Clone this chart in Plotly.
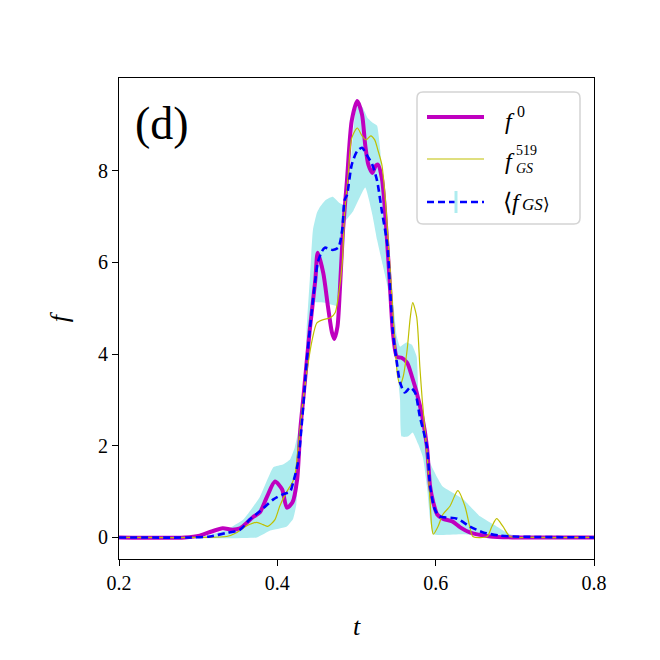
import plotly.graph_objects as go

# ---- data ----
t_f0 = [0.2, 0.283, 0.302, 0.317, 0.331, 0.343, 0.353, 0.369, 0.378, 0.387, 0.397, 0.406, 0.412,
        0.419, 0.425, 0.429, 0.433, 0.437, 0.441, 0.448, 0.451, 0.458, 0.464, 0.469, 0.472,
        0.476, 0.479, 0.483, 0.488, 0.494, 0.501, 0.507, 0.511, 0.515, 0.520, 0.524, 0.527,
        0.532, 0.536, 0.540, 0.542, 0.546, 0.551, 0.557, 0.564, 0.570, 0.576, 0.583, 0.589,
        0.593, 0.597, 0.602, 0.609, 0.621, 0.631, 0.643, 0.669, 0.7, 0.8]
f0 = [0, 0, 0.04, 0.13, 0.20, 0.17, 0.20, 0.44, 0.55, 0.89, 1.22, 1.05, 0.65,
      0.76, 1.26, 2.35, 3.07, 3.81, 4.53, 5.62, 6.21, 5.77, 5.03, 4.47, 4.33,
      4.60, 5.40, 6.71, 7.80, 9.09, 9.52, 9.22, 8.56, 8.13, 7.95, 8.10, 8.13,
      7.84, 7.12, 6.10, 5.56, 4.47, 3.94, 3.92, 3.81, 3.51, 3.16, 2.64, 1.98,
      1.11, 0.76, 0.50, 0.41, 0.35, 0.22, 0.11, 0.02, 0, 0]

t_gs = [0.2, 0.302, 0.336, 0.349, 0.362, 0.374, 0.382, 0.388, 0.397, 0.403, 0.410, 0.419,
        0.422, 0.433, 0.444, 0.450, 0.458, 0.467, 0.473, 0.477, 0.482, 0.485, 0.489, 0.494,
        0.501, 0.507, 0.512, 0.518, 0.523, 0.527, 0.532, 0.536, 0.539, 0.545, 0.549, 0.552,
        0.555, 0.559, 0.564, 0.568, 0.571, 0.576, 0.580, 0.583, 0.589, 0.593, 0.595, 0.597,
        0.603, 0.609, 0.618, 0.628, 0.637, 0.643, 0.647, 0.665, 0.671, 0.677, 0.685, 0.694,
        0.72, 0.8]
f_gs = [0, 0, 0.02, 0.11, 0.26, 0.33, 0.28, 0.24, 0.39, 0.68, 0.94, 1.20,
        1.33, 3.07, 4.31, 4.68, 4.75, 4.79, 4.90, 5.25, 5.99, 7.08, 7.80, 8.71,
        8.93, 8.76, 8.67, 8.76, 8.67, 8.45, 8.13, 7.47, 6.75, 5.19, 4.10, 3.51,
        3.33, 3.51, 4.10, 4.81, 5.12, 4.81, 3.73, 3.01, 1.85, 0.76, 0.24, 0.07,
        0.24, 0.50, 0.68, 1.02, 0.68, 0.24, 0.02, 0.02, 0.24, 0.41, 0.24, 0.02,
        0, 0]

t_mean = [0.2, 0.290, 0.315, 0.336, 0.353, 0.365, 0.378, 0.395, 0.407, 0.416, 0.420, 0.426,
          0.431, 0.437, 0.441, 0.448, 0.451, 0.456, 0.460, 0.470, 0.477, 0.482, 0.485, 0.488,
          0.494, 0.501, 0.507, 0.513, 0.520, 0.526, 0.532, 0.539, 0.542, 0.546, 0.551, 0.555,
          0.561, 0.568, 0.574, 0.580, 0.589, 0.593, 0.599, 0.605, 0.627, 0.643, 0.660, 0.681,
          0.698, 0.8]
f_mean = [0, 0, 0.02, 0.10, 0.17, 0.39, 0.57, 0.83, 0.94, 1.00, 1.20, 1.63,
          2.50, 3.81, 4.53, 5.62, 5.99, 6.23, 6.32, 6.27, 6.32, 6.71, 7.36, 7.47,
          8.13, 8.43, 8.50, 8.34, 8.13, 7.78, 7.12, 6.38, 5.56, 4.47, 3.81, 3.38,
          3.16, 3.27, 3.16, 2.64, 1.98, 1.11, 0.61, 0.46, 0.41, 0.24, 0.11, 0.04,
          0.02, 0]

t_band_up = [0.2, 0.277, 0.306, 0.336, 0.357, 0.378, 0.395, 0.407, 0.416, 0.422, 0.431, 0.435,
             0.437, 0.441, 0.445, 0.450, 0.454, 0.461, 0.470, 0.478, 0.485, 0.490, 0.494, 0.498,
             0.502, 0.508, 0.514, 0.521, 0.526, 0.530, 0.532, 0.536, 0.540, 0.546, 0.551, 0.555,
             0.563, 0.570, 0.576, 0.578, 0.580, 0.589, 0.593, 0.602, 0.609, 0.635, 0.656, 0.677,
             0.694, 0.732, 0.8]
f_band_up = [0, 0, 0.02, 0.17, 0.39, 0.89, 1.53, 1.59, 1.70, 1.96, 2.72, 3.44,
             4.53, 5.62, 6.71, 7.08, 7.21, 7.36, 7.43, 7.30, 7.25, 7.58, 8.45, 9.22,
             9.48, 9.37, 9.15, 9.04, 8.98, 8.45, 7.84, 6.99, 6.06, 5.19, 4.38, 4.16,
             4.25, 4.20, 3.94, 3.22, 2.85, 2.14, 1.63, 1.31, 1.11, 0.83, 0.46, 0.24,
             0.07, 0, 0]

t_band_lo = [0.2, 0.374, 0.391, 0.412, 0.420, 0.424, 0.426, 0.431, 0.437, 0.441, 0.445, 0.460,
             0.477, 0.480, 0.483, 0.496, 0.511, 0.520, 0.526, 0.533, 0.540, 0.546, 0.552, 0.555,
             0.557, 0.565, 0.571, 0.578, 0.584, 0.589, 0.593, 0.597, 0.635, 0.669, 0.694, 0.8]
f_band_lo = [0, 0, 0.15, 0.24, 0.41, 0.72, 1.26, 2.35, 3.44, 4.53, 5.12, 5.12,
             5.05, 5.62, 6.82, 7.12, 7.63, 7.04, 6.49, 5.95, 5.40, 4.31, 3.55, 3.01,
             2.20, 2.20, 2.29, 2.03, 1.74, 1.11, 0.39, 0.07, 0.07, 0.02, 0, 0]

x_ticks = [0.2, 0.4, 0.6, 0.8]
x_tick_labels = ["0.2", "0.4", "0.6", "0.8"]
y_ticks = [0, 2, 4, 6, 8]
y_tick_labels = ["0", "2", "4", "6", "8"]

FONT = "Liberation Serif"
C_F0 = "#BF00BF"
C_GS = "#BFBF00"
C_MEAN = "#0000FF"
C_BAND = "#AEECEF"
MEAN_DASH = "7px,4px"

fig = go.Figure()

# error band (drawn first, underneath)
fig.add_trace(go.Scatter(
    x=t_band_up + t_band_lo[::-1], y=f_band_up + f_band_lo[::-1],
    mode="lines", fill="toself", fillcolor=C_BAND,
    line=dict(width=0, color=C_BAND, shape="spline", smoothing=0.4),
    showlegend=False, hoverinfo="skip"))

fig.add_trace(go.Scatter(
    x=t_f0, y=f0, mode="lines", showlegend=False,
    line=dict(color=C_F0, width=4, shape="spline", smoothing=0.7)))

fig.add_trace(go.Scatter(
    x=t_gs, y=f_gs, mode="lines", showlegend=False,
    line=dict(color=C_GS, width=1.2, shape="spline", smoothing=0.7)))

fig.add_trace(go.Scatter(
    x=t_mean, y=f_mean, mode="lines", showlegend=False,
    line=dict(color=C_MEAN, width=2.6, dash=MEAN_DASH, shape="spline", smoothing=0.7)))

# panel label
fig.add_annotation(text="(d)", xref="paper", yref="paper", x=0.030, y=0.905,
                   xanchor="left", yanchor="middle", showarrow=False,
                   font=dict(family=FONT, size=46, color="black"))

# ---- legend (drawn in paper coordinates of the plot area) ----
PW, PH = 475.0, 481.0          # plot area size in px


def px(dx):
    return dx / PW


def py(dy):
    return dy / PH


lx0, lx1 = px(298), px(461)
ly1, ly0 = 1 - py(14), 1 - py(146)
r_x, r_y = px(6), py(6)
box_path = (f"M {lx0 + r_x},{ly1} L {lx1 - r_x},{ly1} Q {lx1},{ly1} {lx1},{ly1 - r_y} "
            f"L {lx1},{ly0 + r_y} Q {lx1},{ly0} {lx1 - r_x},{ly0} "
            f"L {lx0 + r_x},{ly0} Q {lx0},{ly0} {lx0},{ly0 + r_y} "
            f"L {lx0},{ly1 - r_y} Q {lx0},{ly1} {lx0 + r_x},{ly1} Z")
fig.add_shape(type="path", path=box_path, xref="paper", yref="paper",
              fillcolor="white", line=dict(color="#D0D0D0", width=1.5), opacity=0.9)

sx0, sx1 = px(308), px(365)
rows = [1 - py(39), 1 - py(81), 1 - py(124)]
fig.add_shape(type="line", xref="paper", yref="paper", x0=sx0, x1=sx1, y0=rows[0], y1=rows[0],
              line=dict(color=C_F0, width=4))
fig.add_shape(type="line", xref="paper", yref="paper", x0=sx0, x1=sx1, y0=rows[1], y1=rows[1],
              line=dict(color=C_GS, width=1.2))
fig.add_shape(type="line", xref="paper", yref="paper", x0=sx0, x1=sx1, y0=rows[2], y1=rows[2],
              line=dict(color=C_MEAN, width=2.6, dash=MEAN_DASH))
fig.add_shape(type="line", xref="paper", yref="paper", x0=px(337), x1=px(337),
              y0=rows[2] - py(11), y1=rows[2] + py(11),
              line=dict(color=C_BAND, width=3))

tx = px(384)
fig.add_annotation(text="<i>f</i>", xref="paper", yref="paper", x=tx, y=rows[0] - py(4),
                   xanchor="left", yanchor="middle", showarrow=False,
                   font=dict(family=FONT, size=24, color="black"))
fig.add_annotation(text="0", xref="paper", yref="paper", x=tx + px(12), y=rows[0] + py(6),
                   xanchor="left", yanchor="middle", showarrow=False,
                   font=dict(family=FONT, size=16, color="black"))
fig.add_annotation(text="<i>f</i>", xref="paper", yref="paper", x=tx, y=rows[1] - py(2),
                   xanchor="left", yanchor="middle", showarrow=False,
                   font=dict(family=FONT, size=24, color="black"))
fig.add_annotation(text="519<br><i>GS</i>", xref="paper", yref="paper", x=tx + px(11),
                   y=rows[1] - py(1), xanchor="left", yanchor="middle", align="left",
                   showarrow=False, font=dict(family=FONT, size=14, color="black"))
fig.add_annotation(text="\u27E8<i>f</i>", xref="paper", yref="paper", x=tx - px(2), y=rows[2],
                   xanchor="left", yanchor="middle", showarrow=False,
                   font=dict(family=FONT, size=24, color="black"))
fig.add_annotation(text="<i>GS</i>\u27E9", xref="paper", yref="paper", x=tx + px(17),
                   y=rows[2] - py(2), xanchor="left", yanchor="middle", showarrow=False,
                   font=dict(family=FONT, size=17, color="black"))

axis_common = dict(showline=True, linecolor="black", linewidth=1.2, mirror=True,
                   ticks="outside", ticklen=6, tickwidth=1.2, tickcolor="black",
                   showgrid=False, zeroline=False,
                   tickfont=dict(family=FONT, size=20, color="black"))

fig.update_xaxes(range=[0.2, 0.8], tickvals=x_ticks, ticktext=x_tick_labels,
                 title=dict(text="<i>t</i>", font=dict(family=FONT, size=26, color="black"),
                            standoff=23),
                 **axis_common)
fig.update_yaxes(range=[-0.47, 10.02], tickvals=y_ticks, ticktext=y_tick_labels,
                 title=dict(text="<i>f</i>", font=dict(family=FONT, size=26, color="black"),
                            standoff=21),
                 **axis_common)

# page body has an 8px margin, so the figure is drawn 8px smaller and 8px in
fig.update_layout(
    width=652, height=652,
    margin=dict(l=111, r=66, t=70, b=101),
    plot_bgcolor="white", paper_bgcolor="white",
    font=dict(family=FONT, color="black"),
    showlegend=False,
)

fig.write_html("out.html")
